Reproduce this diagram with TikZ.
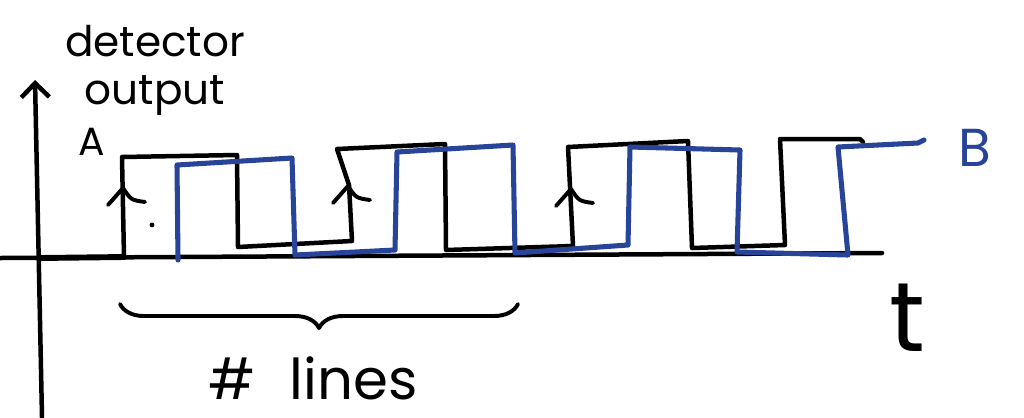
\documentclass[tikz,border=0pt]{standalone}
\usepackage{fontspec}
\setmainfont{Poppins}
\usetikzlibrary{arrows.meta,decorations.pathreplacing}
\definecolor{penblue}{RGB}{40,68,152}
\tikzset{pen/.style={line width=3.2pt,black},
         bluepen/.style={line width=3.6pt,penblue},
         axis/.style={-{Straight Barb[length=3.5mm,width=7mm]},line width=3.2pt},
         hand/.style={inner sep=0pt,font=\fontsize{30}{34}\selectfont}}

\begin{document}
\begin{tikzpicture}[x=.025cm,y=-.025cm,line cap=round,line join=round]
  \useasboundingbox (0,0) rectangle (1024,417);
  % axes
  \draw[axis] (42,417) -- (35,80);
  \draw[pen] (0,258) -- (882,253);
  \node[hand,align=center] (ylab) at (155,70) {detector\\output};
  \node[hand,font=\fontsize{70}{70}\selectfont] (tlab) at (907,318) {t};
  % signal A
  \draw[pen,line width=4.2pt] (40,258) -- (124,257);
  \draw[pen] (124,257) -- (122,157) -- (237,155) -- (238,247) -- (352,241)
    -- (349,185) -- (337,149) -- (445,144) -- (446,250) -- (573,246)
    -- (568,147) -- (688,141) -- (692,248) -- (785,245) -- (780,139)
    -- (860,139) -- (863,142);
  \foreach \x/\y in {123/188,348/186,571/189}
    \draw[pen,line width=2.8pt] (\x-15,\y+17) -- (\x,\y) .. controls (\x+8,\y+12) .. (\x+22,\y+14);
  \fill (152,225) circle (2.4);
  \node[hand,font=\fontsize{28}{28}\selectfont] (A) at (92,142) {A};
  % signal B
  \draw[bluepen] (178,260) -- (177,165) -- (292,158) -- (295,255) -- (395,250)
    -- (397,152) -- (513,145) -- (515,253) -- (628,245) -- (630,147)
    -- (740,150) -- (737,252) -- (848,255) -- (838,147) -- (918,143) -- (924,140);
  \node[hand,penblue,font=\fontsize{38}{38}\selectfont] (B) at (975,148) {B};
  % count
  \draw[pen,line width=2.8pt,decorate,decoration={brace,amplitude=.6cm}]
    (518,304) -- (120,304);
  \node[hand,font=\fontsize{40}{40}\selectfont] (count) at (313,378) {\#\hspace{.6em}lines};
\end{tikzpicture}
\end{document}
